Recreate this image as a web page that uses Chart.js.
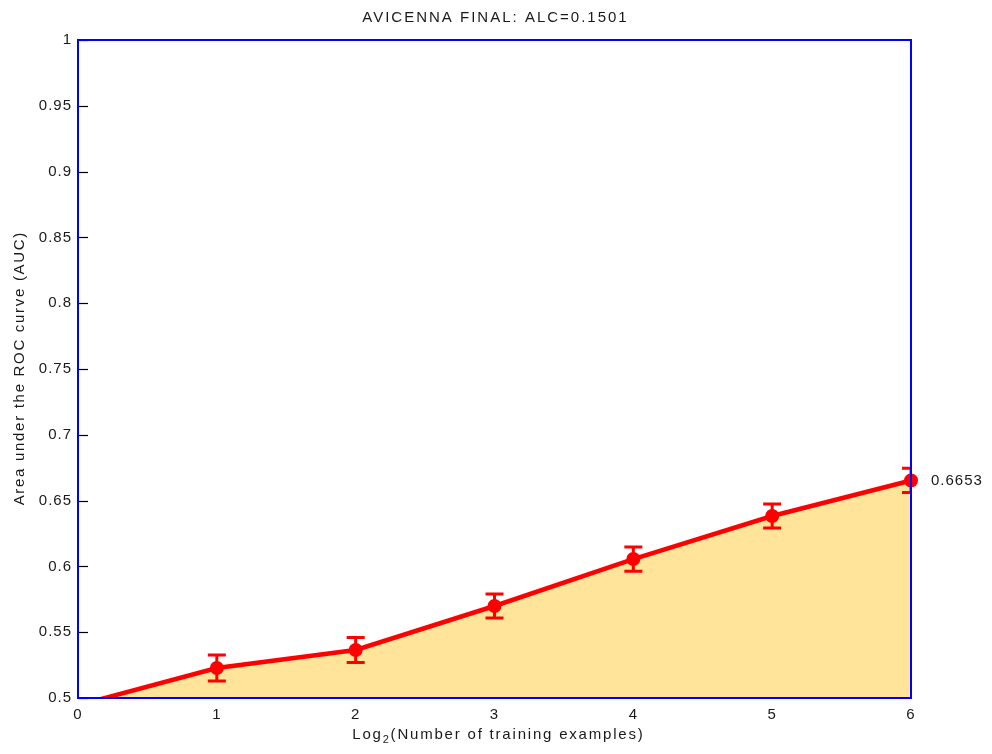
<!DOCTYPE html>
<html>
<head>
<meta charset="utf-8">
<title>AVICENNA FINAL</title>
<script src="https://cdn.jsdelivr.net/npm/chart.js@4/dist/chart.umd.min.js"></script>
<style>
  html, body { margin: 0; padding: 0; background: #fff; }
  #wrap { width: 992px; height: 754px; }
</style>
</head>
<body>
<div id="wrap"><canvas id="c" width="992" height="754"></canvas></div>
<script>
// Learning curve: AUC against log2 of the number of training examples
const log2Examples = [0, 1, 2, 3, 4, 5, 6];
const aucValues    = [0.4945, 0.5228, 0.5365, 0.5699, 0.6056, 0.6383, 0.6653];
const aucErrors    = [0, 0.0098, 0.0095, 0.0092, 0.0092, 0.0092, 0.0092];
const yTicks       = [0.5, 0.55, 0.6, 0.65, 0.7, 0.75, 0.8, 0.85, 0.9, 0.95, 1];
const xTicks       = [0, 1, 2, 3, 4, 5, 6];
const titleText    = 'AVICENNA FINAL: ALC=0.1501';
const finalLabel   = '0.6653';

const FONT = '"Liberation Sans", Arial, Helvetica, sans-serif';
const TEXT = '#1a1a1a';

// Centred text with letter spacing (trailing spacing excluded)
function spacedText(ctx, str, cx, cy, spacing) {
  ctx.letterSpacing = spacing + 'px';
  const w = ctx.measureText(str).width - spacing;
  ctx.textAlign = 'left';
  ctx.fillText(str, cx - w / 2, cy);
}

// Error bars, tick marks, frame and axis titles
const decor = {
  id: 'decor',
  beforeDraw(chart) {
    chart.ctx.letterSpacing = '1px';
  },
  afterDatasetsDraw(chart) {
    const { ctx, chartArea: a, scales: { x, y } } = chart;
    ctx.save();
    ctx.beginPath();
    ctx.rect(a.left, a.top, a.right - a.left, a.bottom - a.top);
    ctx.clip();
    ctx.strokeStyle = '#ff0000';
    log2Examples.forEach((xv, i) => {
      const e = aucErrors[i];
      if (!e) return;
      const px = x.getPixelForValue(xv);
      const top = y.getPixelForValue(aucValues[i] + e);
      const bot = y.getPixelForValue(aucValues[i] - e);
      ctx.lineWidth = 3;
      ctx.beginPath();
      ctx.moveTo(px, top); ctx.lineTo(px, bot);
      ctx.stroke();
      ctx.beginPath();
      ctx.moveTo(px - 9, top); ctx.lineTo(px + 9, top);
      ctx.moveTo(px - 9, bot); ctx.lineTo(px + 9, bot);
      ctx.stroke();
    });
    ctx.restore();
  },
  afterDraw(chart) {
    const { ctx, chartArea: a, scales: { x, y } } = chart;
    ctx.save();
    // inward tick marks on the left axis
    ctx.strokeStyle = '#000';
    ctx.lineWidth = 1.2;
    yTicks.forEach(v => {
      const py = Math.round(y.getPixelForValue(v)) + 0.5;
      ctx.beginPath();
      ctx.moveTo(a.left, py); ctx.lineTo(a.left + 10, py);
      ctx.stroke();
    });
    // blue frame
    ctx.strokeStyle = '#0000ff';
    ctx.lineWidth = 2;
    ctx.strokeRect(a.left, a.top, a.right - a.left, a.bottom - a.top);

    ctx.fillStyle = TEXT;
    ctx.textBaseline = 'middle';
    // title
    ctx.font = '15px ' + FONT;
    spacedText(ctx, titleText, (a.left + a.right) / 2, 18, 2);

    // value label beside the last point
    ctx.letterSpacing = '1px';
    ctx.textAlign = 'left';
    const last = aucValues.length - 1;
    ctx.fillText(finalLabel, a.right + 20, y.getPixelForValue(aucValues[last]));

    // x axis title with subscript
    const sp = 1.8;
    ctx.letterSpacing = sp + 'px';
    const parts = [['Log', 15, 0], ['2', 11, 5], ['(Number of training examples)', 15, 0]];
    let total = 0;
    parts.forEach(p => { ctx.font = p[1] + 'px ' + FONT; total += ctx.measureText(p[0]).width; });
    total -= sp;
    let cx = (a.left + a.right) / 2 - total / 2 + 3;
    const by = 735;
    parts.forEach(p => {
      ctx.font = p[1] + 'px ' + FONT;
      ctx.fillText(p[0], cx, by + p[2]);
      cx += ctx.measureText(p[0]).width;
    });

    // y axis title
    ctx.font = '15px ' + FONT;
    ctx.translate(20, (a.top + a.bottom) / 2);
    ctx.rotate(-Math.PI / 2);
    spacedText(ctx, 'Area under the ROC curve (AUC)', 0, 0, 1.7);
    ctx.restore();
  }
};

new Chart(document.getElementById('c'), {
  type: 'line',
  data: {
    datasets: [{
      data: log2Examples.map((v, i) => ({ x: v, y: aucValues[i] })),
      borderColor: '#ff0000',
      borderWidth: 4.5,
      backgroundColor: 'rgba(255,228,153,1)',
      fill: 'start',
      tension: 0,
      clip: { left: 0, top: 0, right: 10, bottom: 0 },
      pointRadius: 7,
      pointBackgroundColor: '#ff0000',
      pointBorderColor: '#ff0000',
      pointBorderWidth: 0
    }]
  },
  options: {
    responsive: false,
    animation: false,
    events: [],
    layout: { padding: { left: 0, right: 81, top: 40, bottom: 0 } },
    plugins: { legend: { display: false }, title: { display: false }, tooltip: { enabled: false } },
    scales: {
      x: {
        type: 'linear',
        min: 0, max: 6,
        afterFit(s) { s.height = 56; },
        afterBuildTicks(s) { s.ticks = xTicks.map(v => ({ value: v })); },
        grid: { display: false, drawTicks: false },
        border: { display: false },
        ticks: { padding: 8, color: TEXT, font: { family: FONT, size: 15 } }
      },
      y: {
        min: 0.5, max: 1,
        afterFit(s) { s.width = 78; },
        afterBuildTicks(s) { s.ticks = yTicks.map(v => ({ value: v })); },
        grid: { display: false, drawTicks: false },
        border: { display: false },
        ticks: {
          padding: 6, color: TEXT, font: { family: FONT, size: 15 },
          callback: v => String(Number(v.toFixed(2)))
        }
      }
    }
  },
  plugins: [decor]
});
</script>
</body>
</html>
